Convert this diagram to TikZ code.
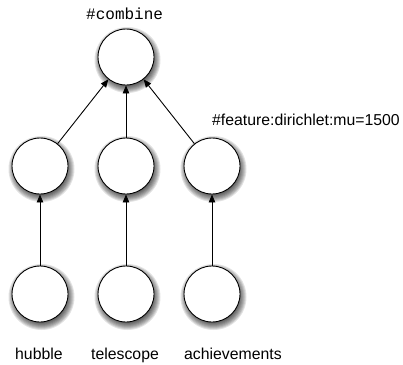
\documentclass[tikz,border=0pt]{standalone}
\usepackage{fontspec}
\setmainfont{Liberation Sans}
\newfontfamily\monof{Liberation Mono}
\usetikzlibrary{arrows.meta}
\begin{document}
\begin{tikzpicture}[x=1pt,y=-1pt,
  vnode/.style={circle,draw=black,line width=0.9pt,fill=white,minimum size=56pt,inner sep=0pt},
  shadowring/.style={fill=black,opacity=0.11},
  conn/.style={-{Triangle[length=8pt,width=6.5pt]},line width=0.9pt},
  lbl/.style={anchor=base west,inner sep=0pt,font=\fontsize{15.8}{18}\selectfont}]
\useasboundingbox (0,0) rectangle (403,364);
\foreach \cx/\cy in {126/57,40/166,126/166,212/166,40/294,126/294,212/294}{
  \foreach \r in {25,26,...,33}{
    \fill[shadowring] (\cx+1.5,\cy+3) circle[radius=\r pt];
  }
}
\node[vnode] (top) at (126,57) {};
\node[vnode] (m1) at (40,166) {};
\node[vnode] (m2) at (126,166) {};
\node[vnode] (m3) at (212,166) {};
\node[vnode] (b1) at (40,294) {};
\node[vnode] (b2) at (126,294) {};
\node[vnode] (b3) at (212,294) {};
\draw[conn] (m1) -- (top);
\draw[conn] (m2) -- (top);
\draw[conn] (m3) -- (top);
\draw[conn] (b1) -- (m1);
\draw[conn] (b2) -- (m2);
\draw[conn] (b3) -- (m3);
\node[anchor=base west,inner sep=0pt,font=\monof\fontsize{16}{18}\selectfont] (lc) at (86,19.5) {\#combine};
\node[lbl] (lf) at (212,125) {\#feature:dirichlet:mu=1500};
\node[lbl] (l1) at (15,359.5) {hubble};
\node[lbl] (l2) at (91,359.5) {telescope};
\node[lbl] (l3) at (184,359.5) {achievements};
\end{tikzpicture}
\end{document}
